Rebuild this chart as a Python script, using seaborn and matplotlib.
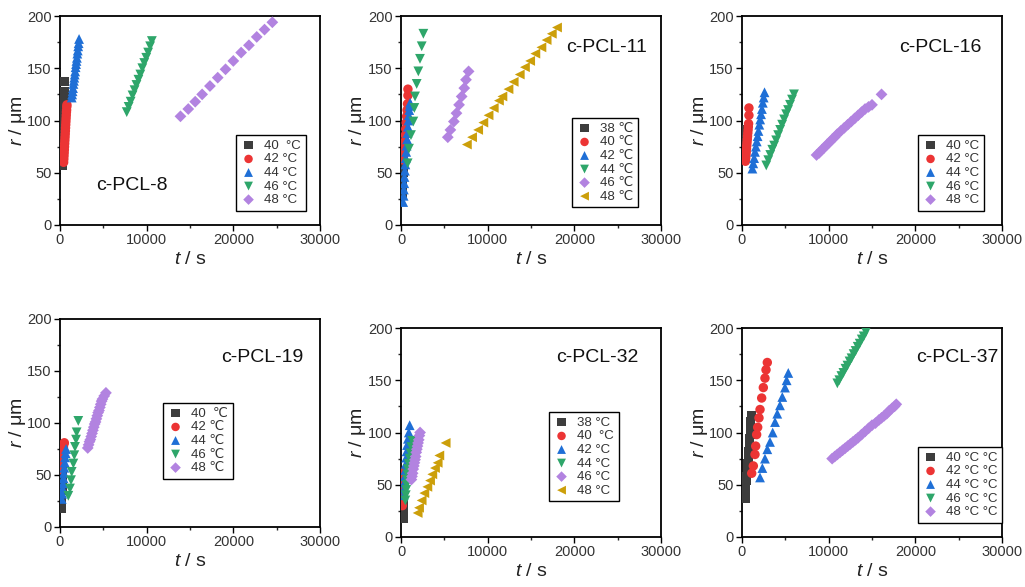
import matplotlib
matplotlib.use("Agg")
import matplotlib.pyplot as plt
import seaborn as sns
import pandas as pd

# ---------------- data ----------------
# c-PCL-8
p8_labels = ["40  °C", "42 °C", "44 °C", "46 °C", "48 °C"]
p8_t40 = [250, 270, 290, 300, 320, 340, 350, 370, 390, 400, 420, 440, 450, 470, 490, 500]
p8_r40 = [57, 62, 67, 72, 77, 82, 87, 92, 97, 102, 107, 112, 117, 122, 128, 137]
p8_t42 = [420, 440, 460, 480, 500, 520, 540, 560, 580, 600, 620, 640, 660, 680, 700, 720, 740, 760, 780, 800]
p8_r42 = [60, 63, 66, 69, 72, 75, 78, 81, 84, 87, 90, 93, 96, 99, 102, 105, 108, 110, 113, 115]
p8_t44 = [1350, 1400, 1450, 1500, 1550, 1600, 1650, 1700, 1750, 1800, 1850, 1900, 1950, 2000, 2050, 2100, 2150, 2200]
p8_r44 = [122, 125, 128, 131, 135, 138, 141, 144, 147, 151, 154, 157, 160, 164, 167, 171, 174, 178]
p8_t46 = [7700, 7920, 8150, 8370, 8600, 8820, 9050, 9270, 9500, 9720, 9950, 10170, 10400, 10600]
p8_r46 = [108, 113, 118, 124, 129, 134, 139, 144, 150, 155, 160, 165, 171, 176]
p8_t48 = [13900, 14800, 15600, 16400, 17300, 18200, 19100, 20000, 20900, 21800, 22700, 23600, 24500]
p8_r48 = [104, 111, 118, 125, 133, 141, 149, 157, 165, 172, 180, 187, 194]

# c-PCL-11
p11_labels = ["38 \u2103", "40 \u2103", "42 \u2103", "44 \u2103", "46 \u2103", "48 \u2103"]
p11_t38 = [150, 180, 200, 220, 250, 280, 300, 330, 350]
p11_r38 = [30, 35, 40, 45, 50, 55, 60, 65, 70]
p11_t40 = [300, 350, 400, 450, 500, 550, 600, 650, 700, 750, 800, 800]
p11_r40 = [62, 68, 74, 80, 86, 92, 98, 104, 110, 116, 124, 130]
p11_t42 = [250, 300, 330, 370, 400, 450, 500, 550, 600, 650, 700, 750, 800, 850, 900, 950, 1000, 1050]
p11_r42 = [22, 28, 34, 40, 46, 52, 58, 64, 70, 76, 82, 88, 94, 100, 105, 110, 114, 117]
p11_t44 = [770, 920, 1150, 1420, 1540, 1620, 1810, 2000, 2190, 2390, 2580]
p11_r44 = [59, 73, 86, 99, 112, 123, 135, 147, 159, 171, 183]
p11_t46 = [5400, 5700, 6100, 6400, 6700, 7000, 7300, 7500, 7800]
p11_r46 = [84, 91, 99, 107, 115, 123, 131, 139, 147]
p11_t48 = [7600, 8200, 8900, 9500, 10100, 10700, 11300, 11700, 12400, 13000, 13700, 14300, 14900, 15500, 16200, 16800, 17400, 18000]
p11_r48 = [77, 84, 91, 98, 105, 112, 119, 123, 130, 137, 144, 151, 157, 164, 170, 177, 183, 189]

# c-PCL-16
p16_labels = ["40 °C", "42 °C", "44 °C", "46 °C", "48 °C"]
p16_t40 = [300, 350, 400, 450, 500]
p16_r40 = [63, 70, 77, 84, 91]
p16_t42 = [400, 430, 460, 490, 520, 550, 580, 610, 640, 670, 700, 730, 760, 800, 800]
p16_r42 = [61, 64, 67, 70, 73, 76, 79, 82, 85, 88, 91, 94, 97, 105, 112]
p16_t44 = [1200, 1300, 1400, 1500, 1600, 1700, 1800, 1900, 2000, 2100, 2200, 2300, 2400, 2500, 2600]
p16_r44 = [54, 59, 64, 70, 75, 80, 85, 90, 96, 101, 106, 111, 117, 122, 127]
p16_t46 = [2800, 3030, 3260, 3490, 3710, 3940, 4170, 4400, 4630, 4860, 5090, 5310, 5540, 5770, 6000]
p16_r46 = [57, 62, 67, 72, 76, 81, 86, 91, 96, 101, 106, 110, 115, 120, 125]
p16_t48 = [8600, 8900, 9200, 9500, 9800, 10100, 10400, 10700, 11000, 11400, 11800, 12200, 12600, 13000, 13400, 13800, 14200, 14600, 15000, 16100]
p16_r48 = [67, 69, 72, 74, 77, 79, 82, 84, 87, 90, 93, 96, 99, 102, 105, 108, 111, 113, 115, 125]

# c-PCL-19
p19_labels = ["40  \u2103", "42 \u2103", "44 \u2103", "46 \u2103", "48 \u2103"]
p19_t40 = [200, 220, 240, 260, 280, 300]
p19_r40 = [18, 25, 35, 45, 55, 65]
p19_t42 = [150, 200, 250, 300, 350, 400, 450, 500]
p19_r42 = [55, 60, 65, 70, 74, 77, 80, 81]
p19_t44 = [200, 250, 300, 350, 400, 450, 500, 550, 600, 650, 700]
p19_r44 = [27, 32, 37, 42, 47, 52, 57, 62, 67, 71, 75]
p19_t46 = [960, 1150, 1270, 1350, 1540, 1650, 1730, 1850, 1920, 2110]
p19_r46 = [30, 37, 45, 53, 61, 69, 77, 84, 91, 102]
p19_t48 = [3200, 3300, 3400, 3500, 3600, 3700, 3800, 3900, 4000, 4100, 4200, 4300, 4400, 4500, 4600, 4700, 4800, 4900, 5100, 5300]
p19_r48 = [76, 79, 82, 84, 87, 90, 93, 96, 99, 101, 104, 107, 110, 112, 115, 118, 121, 123, 126, 129]

# c-PCL-32
p32_labels = ["38 °C", "40  °C", "42 °C", "44 °C", "46 °C", "48 °C"]
p32_t38 = [250, 260, 270, 280, 290, 300]
p32_r38 = [18, 22, 26, 30, 34, 38]
p32_t40 = [150, 200, 250, 300, 350, 400]
p32_r40 = [30, 37, 44, 50, 56, 62]
p32_t42 = [300, 350, 400, 450, 500, 550, 600, 650, 700, 800, 900, 1000]
p32_r42 = [40, 46, 52, 58, 64, 70, 76, 82, 88, 94, 100, 107]
p32_t44 = [500, 550, 600, 650, 700, 750, 800, 900, 1000, 1100, 1200, 1300]
p32_r44 = [35, 40, 45, 50, 55, 60, 65, 70, 75, 80, 86, 92]
p32_t46 = [1200, 1270, 1340, 1410, 1480, 1550, 1620, 1690, 1760, 1830, 1900, 1970, 2050, 2120, 2200]
p32_r46 = [55, 58, 61, 65, 68, 71, 74, 77, 81, 84, 87, 90, 93, 97, 100]
p32_t48 = [1920, 2080, 2380, 2690, 3040, 3350, 3610, 3920, 4230, 4420, 5150]
p32_r48 = [23, 28, 35, 42, 48, 54, 60, 66, 71, 78, 90]

# c-PCL-37
p37_labels = ["40 °C °C", "42 °C °C", "44 °C °C", "46 °C °C", "48 °C °C"]
p37_t40 = [350, 380, 420, 460, 500, 540, 580, 620, 660, 700, 740, 780, 820, 860, 900, 930, 960, 990, 1020, 1040]
p37_r40 = [37, 41, 45, 49, 54, 58, 62, 66, 70, 74, 78, 82, 86, 90, 94, 98, 102, 106, 111, 116]
p37_t42 = [1120, 1310, 1500, 1580, 1690, 1810, 1960, 2080, 2270, 2460, 2650, 2770, 2920]
p37_r42 = [61, 68, 79, 87, 98, 105, 114, 122, 133, 143, 152, 160, 167]
p37_t44 = [2080, 2350, 2650, 2920, 3230, 3540, 3810, 4070, 4380, 4650, 4960, 5150, 5340]
p37_r44 = [57, 66, 75, 84, 91, 100, 110, 118, 126, 134, 143, 150, 157]
p37_t46 = [11000, 11230, 11470, 11700, 11940, 12170, 12410, 12640, 12880, 13110, 13350, 13580, 13820, 14050, 14300]
p37_r46 = [147, 150, 154, 157, 161, 164, 168, 171, 175, 178, 182, 185, 189, 192, 196]
p37_t48 = [10400, 10700, 11000, 11300, 11600, 11900, 12200, 12500, 12800, 13100, 13400, 13800, 14200, 14600, 15000, 15400, 15800, 16100, 16400, 16700, 17000, 17300, 17600, 17800]
p37_r48 = [75, 77, 79, 81, 83, 85, 87, 89, 91, 93, 95, 98, 101, 104, 107, 109, 112, 114, 116, 118, 121, 123, 125, 127]

panel_names = ["c-PCL-8", "c-PCL-11", "c-PCL-16", "c-PCL-19", "c-PCL-32", "c-PCL-37"]

# ---------------- style ----------------
sns.set_style("ticks")
plt.rcParams["font.family"] = ["Liberation Sans", "DejaVu Sans"]
plt.rcParams["mathtext.fontset"] = "custom"
plt.rcParams["mathtext.it"] = "Liberation Sans:italic"
plt.rcParams["mathtext.rm"] = "Liberation Sans"

colors = ["#3d3d3d", "#ec3434", "#1f6fd6", "#2ea66a", "#b283e0", "#cc9f0a"]
markers = ["s", "o", "^", "v", "D", "<"]
msizes = [42, 46, 50, 50, 36, 50]

W, H = 1025, 587
fig = plt.figure(figsize=(W / 100, H / 100), dpi=100)

panels = [
    dict(name=panel_names[0], labels=p8_labels,
         series=[(p8_t40, p8_r40), (p8_t42, p8_r42), (p8_t44, p8_r44), (p8_t46, p8_r46), (p8_t48, p8_r48)],
         box=(60, 16, 320, 225), leg=(236, 135), txt=(132, 185)),
    dict(name=panel_names[1], labels=p11_labels,
         series=[(p11_t38, p11_r38), (p11_t40, p11_r40), (p11_t42, p11_r42), (p11_t44, p11_r44), (p11_t46, p11_r46), (p11_t48, p11_r48)],
         box=(401, 16, 661, 225), leg=(572, 118), txt=(607, 48)),
    dict(name=panel_names[2], labels=p16_labels,
         series=[(p16_t40, p16_r40), (p16_t42, p16_r42), (p16_t44, p16_r44), (p16_t46, p16_r46), (p16_t48, p16_r48)],
         box=(742, 16, 1002, 225), leg=(918, 135), txt=(940, 48)),
    dict(name=panel_names[3], labels=p19_labels,
         series=[(p19_t40, p19_r40), (p19_t42, p19_r42), (p19_t44, p19_r44), (p19_t46, p19_r46), (p19_t48, p19_r48)],
         box=(60, 319, 320, 527), leg=(163, 403), txt=(262, 358)),
    dict(name=panel_names[4], labels=p32_labels,
         series=[(p32_t38, p32_r38), (p32_t40, p32_r40), (p32_t42, p32_r42), (p32_t44, p32_r44), (p32_t46, p32_r46), (p32_t48, p32_r48)],
         box=(401, 328, 661, 537), leg=(549, 412), txt=(597, 358)),
    dict(name=panel_names[5], labels=p37_labels,
         series=[(p37_t40, p37_r40), (p37_t42, p37_r42), (p37_t44, p37_r44), (p37_t46, p37_r46), (p37_t48, p37_r48)],
         box=(742, 328, 1002, 537), leg=(918, 447), txt=(957, 358)),
]

for p in panels:
    x0, y0, x1, y1 = p["box"]
    ax = fig.add_axes([x0 / W, 1 - y1 / H, (x1 - x0) / W, (y1 - y0) / H])
    for i, ((t, r), lab) in enumerate(zip(p["series"], p["labels"])):
        df = pd.DataFrame({"t": t, "r": r})
        sns.scatterplot(data=df, x="t", y="r", ax=ax, marker=markers[i], color=colors[i],
                        s=msizes[i], linewidth=0, edgecolor="none", label=lab, zorder=3 + i)
    ax.set_xlim(0, 30000)
    ax.set_ylim(0, 200)
    ax.set_xticks([0, 10000, 20000, 30000])
    ax.set_xticks([5000, 15000, 25000], minor=True)
    ax.set_yticks([0, 50, 100, 150, 200])
    ax.set_yticks([25, 75, 125, 175], minor=True)
    ax.tick_params(axis="both", which="major", direction="out", length=4, width=1,
                   labelsize=10.5, colors="black", pad=2)
    ax.tick_params(axis="both", which="minor", direction="out", length=2.5, width=1)
    ax.tick_params(labelcolor="#333333")
    for sp in ax.spines.values():
        sp.set_visible(True)
        sp.set_linewidth(1.3)
        sp.set_color("black")
    ax.set_xlabel(r"$\it{t}$ / s", fontsize=14, labelpad=3, color="#222222")
    ax.set_ylabel(r"$\it{r}$ / μm", fontsize=14, color="#222222")
    ax.yaxis.set_label_coords(-0.125, 0.5)
    lx, ly = p["leg"]
    leg = ax.legend(loc="upper left", bbox_to_anchor=(lx / W, 1 - ly / H), bbox_transform=fig.transFigure,
                    borderaxespad=0, frameon=True, fancybox=False, edgecolor="black", framealpha=1,
                    fontsize=9.5, handletextpad=0.6, labelspacing=0.1, borderpad=0.35,
                    handlelength=1.2, markerscale=0.9)
    leg.get_frame().set_linewidth(1.0)
    for txt in leg.get_texts():
        txt.set_color("#333333")
    tx, ty = p["txt"]
    fig.text(tx / W, 1 - ty / H, p["name"], ha="center", va="center", fontsize=14, color="#111111")

fig.savefig("out.png", dpi=100, facecolor="white")
